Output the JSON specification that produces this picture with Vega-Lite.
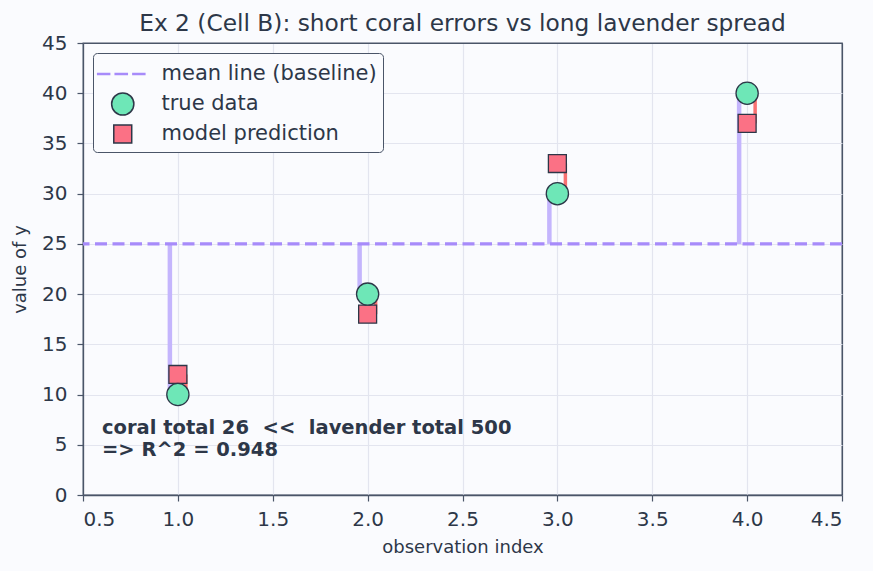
{
  "$schema": "https://vega.github.io/schema/vega-lite/v6.json",
  "width": 759,
  "height": 452,
  "autosize": "none",
  "padding": {"left": 83, "top": 43, "right": 31, "bottom": 76},
  "background": "#fafbfe",
  "title": {"text": "Ex 2 (Cell B): short coral errors vs long lavender spread", "fontSize": 23.3, "font": "DejaVu Sans", "fontWeight": "normal", "color": "#2d3748", "offset": -3},
  "config": {
    "font": "DejaVu Sans",
    "view": {"stroke": "#4a5568", "strokeWidth": 1.3, "fill": "#fafbfe"},
    "axis": {"gridColor": {"condition": {"test": "datum.value === 45 || datum.value === 4.5", "value": "#4a5568"}, "value": "#e3e5ef"}, "gridWidth": 1.2, "domain": true, "domainColor": "#4a5568", "domainWidth": 1.3, "tickColor": "#4a5568", "tickSize": 6, "tickWidth": 1.2, "labelFontSize": 20, "labelColor": "#2d3748", "titleFontSize": 18, "titleFontWeight": "normal", "titleColor": "#2d3748"},
    "axisX": {"labelPadding": 8, "titlePadding": 9},
    "axisY": {"labelPadding": 10, "titlePadding": 12},
    "legend": {"orient": "top-left", "offset": 10, "padding": 6, "strokeColor": "#4a5568", "fillColor": "#fafbfe", "cornerRadius": 4, "labelFontSize": 21, "labelLimit": 0, "labelColor": "#2d3748", "symbolSize": 812, "rowPadding": 0, "gridAlign": "all", "labelOffset": 23.75, "symbolOffset": 8.75}
  },
  "datasets": {
    "obs": [
      {"x": 1, "y_true": 10, "y_pred": 12, "mean": 25},
      {"x": 2, "y_true": 20, "y_pred": 18, "mean": 25},
      {"x": 3, "y_true": 30, "y_pred": 33, "mean": 25},
      {"x": 4, "y_true": 40, "y_pred": 37, "mean": 25}
    ],
    "pts": [
      {"x": 1, "y": 12, "series": "model prediction"},
      {"x": 2, "y": 18, "series": "model prediction"},
      {"x": 3, "y": 33, "series": "model prediction"},
      {"x": 4, "y": 37, "series": "model prediction"},
      {"x": 1, "y": 10, "series": "true data"},
      {"x": 2, "y": 20, "series": "true data"},
      {"x": 3, "y": 30, "series": "true data"},
      {"x": 4, "y": 40, "series": "true data"}
    ],
    "baseline": [{"mean": 25}],
    "note": [{"label": "coral total 26\u00a0\u00a0<<\u00a0\u00a0lavender total 500\n=> R^2 = 0.948"}]
  },
  "layer": [
    {
      "data": {"name": "obs"},
      "mark": {"type": "rule", "color": "#c4b5fd", "strokeWidth": 4.5, "xOffset": -8},
      "encoding": {
        "x": {"field": "x", "type": "quantitative", "scale": {"domain": [0.5, 4.5], "nice": false}, "axis": {"values": [0.5, 1, 1.5, 2, 2.5, 3, 3.5, 4, 4.5], "format": ".1f", "title": "observation index"}},
        "y": {"field": "mean", "type": "quantitative", "scale": {"domain": [0, 45], "nice": false}, "axis": {"values": [0, 5, 10, 15, 20, 25, 30, 35, 40, 45], "title": "value of y"}},
        "y2": {"field": "y_true"}
      }
    },
    {
      "data": {"name": "baseline"},
      "mark": {"type": "rule", "color": "#a78bfa", "strokeWidth": 3.2, "strokeDash": [12, 5.5]},
      "encoding": {"y": {"field": "mean", "type": "quantitative"}}
    },
    {
      "data": {"name": "obs"},
      "mark": {"type": "rule", "color": "#f87171", "strokeWidth": 3.5, "xOffset": 8},
      "encoding": {
        "x": {"field": "x", "type": "quantitative"},
        "y": {"field": "y_pred", "type": "quantitative"},
        "y2": {"field": "y_true"}
      }
    },
    {
      "data": {"name": "pts"},
      "mark": {"type": "point", "size": 812, "strokeWidth": 1.3, "opacity": 1},
      "encoding": {
        "x": {"field": "x", "type": "quantitative"},
        "y": {"field": "y", "type": "quantitative"},
        "shape": {"field": "series", "type": "nominal", "scale": {"domain": ["mean line (baseline)", "true data", "model prediction"], "range": ["M-1.76,-0.042H-0.92V0.042H-1.76ZM-0.53,-0.042H0.32V0.042H-0.53ZM0.71,-0.042H1.55V0.042H0.71Z", "M0.78,0A0.78,0.78,0,1,1,-0.78,0A0.78,0.78,0,1,1,0.78,0Z", "M-0.63,-0.63H0.63V0.63H-0.63Z"]}, "legend": {"title": null}},
        "fill": {"field": "series", "type": "nominal", "scale": {"domain": ["mean line (baseline)", "true data", "model prediction"], "range": ["#a78bfa", "#6ee7b7", "#fb7185"]}, "legend": {"title": null}},
        "stroke": {"field": "series", "type": "nominal", "scale": {"domain": ["mean line (baseline)", "true data", "model prediction"], "range": ["#a78bfa", "#2d3748", "#2d3748"]}, "legend": {"title": null}}
      }
    },
    {
      "data": {"name": "note"},
      "mark": {"type": "text", "align": "left", "baseline": "middle", "fontWeight": "bold", "fontSize": 19.5, "color": "#2d3748", "lineBreak": "\n", "lineHeight": 22},
      "encoding": {
        "x": {"datum": 0.6, "type": "quantitative"},
        "y": {"datum": 6.67, "type": "quantitative"},
        "text": {"field": "label"}
      }
    }
  ]
}
